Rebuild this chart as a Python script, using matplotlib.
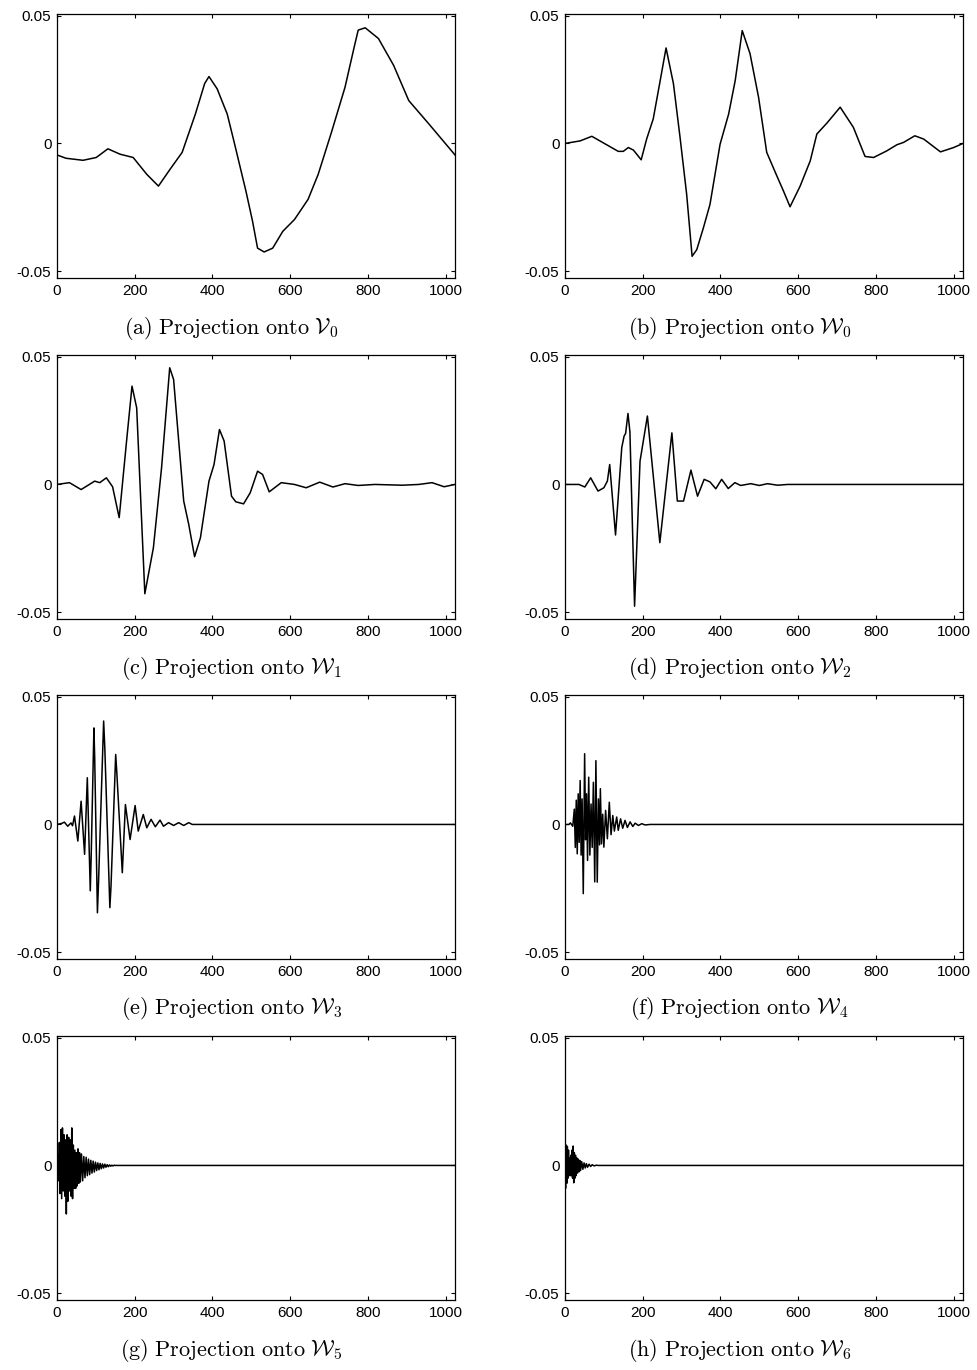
import numpy as np
import matplotlib
matplotlib.use("Agg")
import matplotlib.pyplot as plt

# values (sample index, amplitude)
v0 = np.array([(0, -0.0045), (23, -0.0058), (67, -0.0066), (101, -0.0055), (131, -0.0021),
               (162, -0.0042), (196, -0.0055), (231, -0.0121), (261, -0.0167), (291, -0.0101),
               (322, -0.0035), (356, 0.0115), (380, 0.0235), (391, 0.0262), (412, 0.0214),
               (438, 0.0115), (455, 0.001), (486, -0.0186), (503, -0.0304), (516, -0.041),
               (533, -0.0425), (555, -0.041), (581, -0.0344), (611, -0.0298), (646, -0.0219),
               (672, -0.0121), (706, 0.0043), (741, 0.022), (765, 0.038), (775, 0.0444),
               (793, 0.0453), (827, 0.0411), (866, 0.0306), (905, 0.0168), (957, 0.0076),
               (1024, -0.0045)])

w0 = np.array([(0, 0), (39, 0.001), (69, 0.0028), (107, -0.0005), (137, -0.0031), (150, -0.0031),
               (163, -0.0016), (176, -0.0026), (196, -0.0064), (210, 0.0017), (227, 0.0096),
               (245, 0.0247), (260, 0.0374), (279, 0.0234), (296, 0.0024), (313, -0.0199),
               (327, -0.0442), (339, -0.0416), (356, -0.0331), (373, -0.0239), (399, -0.0003),
               (421, 0.0115), (438, 0.0247), (456, 0.0442), (476, 0.0352), (498, 0.0181),
               (519, -0.0035), (545, -0.0127), (562, -0.0186), (579, -0.0248), (605, -0.0167),
               (631, -0.0068), (648, 0.0037), (674, 0.008), (708, 0.0142), (742, 0.0063),
               (772, -0.0051), (794, -0.0055), (828, -0.0029), (854, -0.0005), (871, 0.0004),
               (900, 0.003), (923, 0.0017), (966, -0.0033), (1000, -0.0016), (1024, 0)])

w1 = np.array([(0, 0), (32, 0.0007), (62, -0.002), (97, 0.0013), (110, 0.0007), (127, 0.0026),
               (143, -0.0009), (160, -0.013), (179, 0.017), (193, 0.0385), (205, 0.03),
               (226, -0.0428), (248, -0.0248), (269, 0.0065), (290, 0.0457), (300, 0.0411),
               (326, -0.0065), (339, -0.0157), (354, -0.0283), (369, -0.0209), (391, 0.0013),
               (404, 0.0078), (418, 0.0215), (430, 0.017), (449, -0.0046), (460, -0.0068),
               (480, -0.0076), (497, -0.0033), (516, 0.0052), (529, 0.0039), (546, -0.0029),
               (577, 0.0007), (611, 0), (641, -0.0013), (676, 0.0009), (710, -0.001),
               (741, 0.0003), (775, -0.0004), (818, 0), (888, -0.0003), (931, 0),
               (965, 0.0007), (996, -0.0009), (1024, 0)])

w2 = np.array([(0, 0), (36, 0), (51, -0.001), (66, 0.0026), (85, -0.0026), (100, -0.0013),
               (109, 0.0013), (115, 0.0078), (130, -0.0198), (146, 0.0144), (152, 0.0189),
               (156, 0.02), (162, 0.0278), (167, 0.0206), (179, -0.0477), (193, 0.0091),
               (212, 0.0268), (244, -0.0228), (275, 0.0202), (289, -0.0065), (305, -0.0065),
               (324, 0.0056), (341, -0.0046), (358, 0.002), (373, 0.001), (388, -0.0017),
               (403, 0.002), (420, -0.0016), (437, 0.0007), (452, -0.0004), (478, 0.0003),
               (500, -0.0004), (521, 0.0003), (547, -0.0003), (573, 0), (1024, 0)])

w3 = np.array([(0, 0), (12, 0.0004), (19, 0.0009), (27.6, -0.0007), (36, 0.0006), (40, -0.0005),
               (45, 0.0033), (53.6, -0.0065), (62, 0.0091), (71, -0.0117), (78, 0.0183),
               (85.6, -0.026), (88, -0.012), (95, 0.0378), (97, 0.026), (104, -0.0346),
               (107, -0.022), (120, 0.0405), (123, 0.03), (136, -0.0326), (139, -0.024),
               (151, 0.0274), (154, 0.02), (168, -0.0189), (176, 0.0078), (188, -0.0059),
               (201, 0.0074), (209, -0.0026), (222, 0.0039), (231, -0.0013), (242, 0.002),
               (253, -0.0009), (265, 0.0017), (274, -0.0007), (287, 0.0007), (300, -0.0004),
               (313, 0.0007), (326, -0.0004), (339, 0.0007), (348, 0), (1024, 0)])

w4 = np.array([(0, 0), (10, 0), (14, 0.0006), (20, -0.0007), (24, 0.006), (26.5, -0.009),
               (29, 0.0095), (31.5, -0.0115), (34, 0.012), (36.5, -0.007), (39, 0.0172),
               (41.5, -0.012), (44, 0.010), (47, -0.0271), (50.5, 0.0277), (53, -0.006),
               (55.5, 0.012), (58, -0.0141), (61, 0.0185), (64, -0.012), (67, 0.008),
               (70, -0.009), (73, 0.0165), (76.5, -0.0225), (79.5, 0.025), (83, -0.0226),
               (86, 0.010), (89, -0.008), (91, 0.014), (94, -0.0076), (97, 0.004),
               (100, -0.0089), (104.5, 0.0055), (109, -0.0056), (114, 0.0087), (118.5, -0.004),
               (123, 0.0035), (127, -0.0026), (133, 0.0029), (137, -0.0023), (143, 0.0022),
               (148.5, -0.0015), (154.5, 0.0016), (160.5, -0.0012), (167.5, 0.001),
               (174.5, -0.0008), (180.5, 0.0005), (189, -0.0004), (197.5, 0.0003),
               (206, -0.0002), (219, 0), (1024, 0)])

w5 = np.array([(0, 0), (2, 0.004), (4, -0.006), (6, 0.009), (8, -0.011), (10, 0.014),
               (12, -0.013), (14, 0.0147), (16, -0.010), (18, 0.012), (20, -0.012), (22, 0.010),
               (24, -0.019), (26, 0.012), (28, -0.014), (30, 0.011), (32, -0.010), (34, 0.010),
               (36, -0.012), (38, 0.0147), (40, -0.013), (42, 0.008), (44, -0.009), (46, 0.006),
               (48, -0.009), (50, 0.005), (52, -0.008), (54, 0.0065), (56, -0.007), (58, 0.005),
               (60, -0.0065), (63, 0.0045), (66, -0.006), (69, 0.0035), (72, -0.0048),
               (75, 0.0032), (78, -0.004), (81, 0.0025), (84, -0.0036), (87, 0.002),
               (90, -0.003), (93, 0.0017), (96, -0.0026), (99, 0.0013), (102, -0.002),
               (105, 0.001), (108, -0.0017), (111, 0.0008), (114, -0.0013), (117, 0.0006),
               (120, -0.001), (123, 0.0005), (126, -0.0007), (129, 0.0003), (132, -0.0005),
               (135, 0.0002), (138, -0.0003), (141, 0.0001), (144, -0.0002), (147, 0.0001),
               (150, 0), (1024, 0)])

w6 = np.array([(0, 0), (1.5, -0.009), (3, 0.008), (4.5, -0.007), (6, 0.0075), (7.5, -0.005),
               (9, 0.006), (10.5, -0.004), (12, 0.003), (13.5, -0.004), (15, 0.004),
               (16.5, -0.004), (18, 0.006), (19.5, -0.005), (21, 0.0076), (22.5, -0.0068),
               (24, 0.005), (25.5, -0.005), (27, 0.004), (28.5, -0.004), (30, 0.003),
               (32, -0.003), (34, 0.0025), (36, -0.0025), (38, 0.002), (40, -0.002),
               (43, 0.0015), (46, -0.0015), (49, 0.001), (52, -0.001), (55, 0.0007),
               (58, -0.0007), (62, 0.0005), (66, -0.0004), (70, 0.0003), (75, -0.0002),
               (80, 0.0001), (85, 0), (1024, 0)])

signals = [v0, w0, w1, w2, w3, w4, w5, w6]
letters = ["a", "b", "c", "d", "e", "f", "g", "h"]
spaces = [r"\mathcal{V}_0", r"\mathcal{W}_0", r"\mathcal{W}_1", r"\mathcal{W}_2",
          r"\mathcal{W}_3", r"\mathcal{W}_4", r"\mathcal{W}_5", r"\mathcal{W}_6"]
xticks = [0, 200, 400, 600, 800, 1000]
yticks = [-0.05, 0, 0.05]
ytick_labels = ["-0.05", "0", "0.05"]

plt.rcParams["font.family"] = ["Liberation Sans", "DejaVu Sans"]
plt.rcParams["mathtext.fontset"] = "cm"

W, H = 977, 1370
fig = plt.figure(figsize=(W / 100, H / 100), dpi=100)

col_left = [57, 565]
col_width = 398
row_top = [14, 355, 695, 1036]
row_height = 264

for i, sig in enumerate(signals):
    r, c = divmod(i, 2)
    x0 = col_left[c] / W
    y0 = 1 - (row_top[r] + row_height) / H
    ax = fig.add_axes([x0, y0, col_width / W, row_height / H])
    ax.plot(sig[:, 0], sig[:, 1], color="black", lw=1.1)
    ax.set_xlim(0, 1024)
    ax.set_ylim(-0.0527, 0.0507)
    ax.set_xticks(xticks)
    ax.set_yticks(yticks)
    ax.set_yticklabels(ytick_labels)
    ax.tick_params(direction="in", top=True, right=True, length=3, width=0.8,
                   labelsize=11, pad=4)
    for s in ax.spines.values():
        s.set_linewidth(0.9)
    cap = r"$\mathrm{(%s)\ Projection\ onto\ }%s$" % (letters[i], spaces[i])
    fig.text(x0 + (col_width / W) / 2 - 0.025, 1 - (row_top[r] + row_height + 50) / H, cap,
             ha="center", va="center", fontsize=16)

fig.savefig("out.png", dpi=100)
